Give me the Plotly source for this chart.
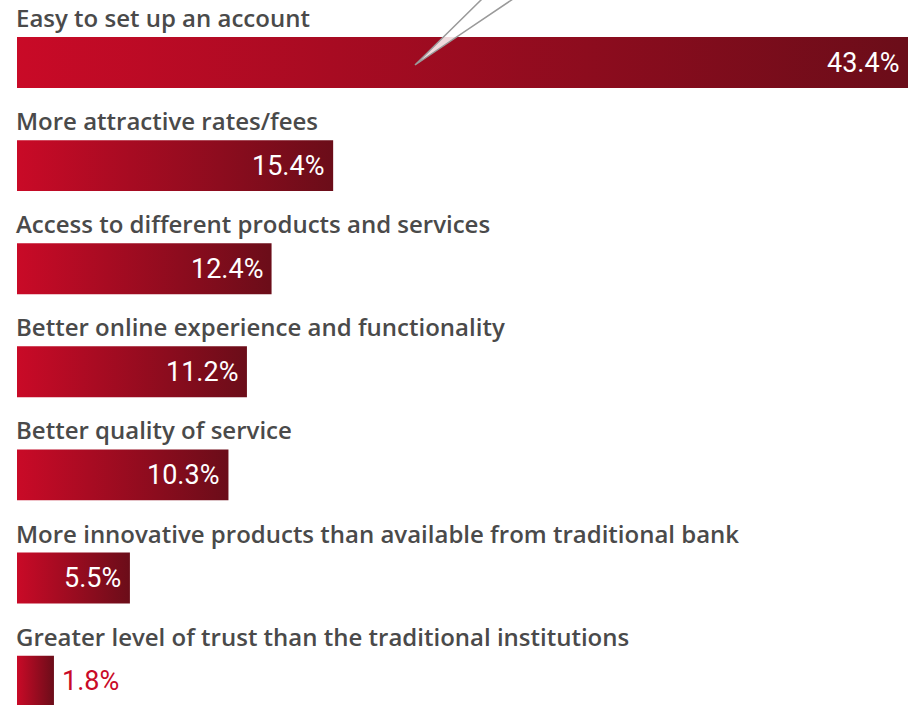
import plotly.graph_objects as go

categories = [
    "Easy to set up an account",
    "More attractive rates/fees",
    "Access to different products and services",
    "Better online experience and functionality",
    "Better quality of service",
    "More innovative products than available from traditional bank",
    "Greater level of trust than the traditional institutions",
]
values = [43.4, 15.4, 12.4, 11.2, 10.3, 5.5, 1.8]
value_labels = ["43.4%", "15.4%", "12.4%", "11.2%", "10.3%", "5.5%", "1.8%"]

W, H = 908, 705
LEFT = 17
HALF = 0.247
STEP = 103.1
TOP_OFF = 62.5 / STEP

fig = go.Figure()
for i, (cat, v) in enumerate(zip(categories, values)):
    fig.add_trace(go.Scatter(
        x=[0, v, v, 0, 0],
        y=[i - HALF, i - HALF, i + HALF, i + HALF, i - HALF],
        mode="lines", line=dict(width=0), fill="toself",
        fillgradient=dict(type="horizontal",
                          colorscale=[[0, "#c90a27"], [1, "#6b0d19"]]),
        hoverinfo="skip", showlegend=False,
    ))
    fig.add_annotation(x=0, y=i - HALF, xref="x", yref="y", text=cat,
                       showarrow=False, xanchor="left", yanchor="bottom",
                       yshift=1, xshift=-3,
                       font=dict(family="Open Sans, Roboto, Arial", size=24,
                                 color="#4a4a4a", weight=600))
    inside = v > 4
    fig.add_annotation(x=v, y=i, xref="x", yref="y", text=value_labels[i],
                       showarrow=False,
                       xanchor="right" if inside else "left",
                       xshift=-7 if inside else 6,
                       font=dict(family="Roboto, Arial", size=27,
                                 color="#ffffff" if inside else "#c90a27"))

# decorative needle
def px(x):
    return (x - LEFT) / (W - LEFT)

def py(y):
    return 1 - y / H

fig.add_shape(type="path", xref="paper", yref="paper",
              path=f"M {px(415)} {py(65)} L {px(482)} {py(-1)} L {px(513)} {py(-1)} Z",
              fillcolor="rgba(255,255,255,0.85)", line=dict(color="#9a9a9a", width=1.5))

fig.update_layout(
    width=W, height=H,
    margin=dict(l=LEFT, r=0, t=0, b=0),
    paper_bgcolor="white", plot_bgcolor="white",
    xaxis=dict(range=[0, max(values)], visible=False, fixedrange=True),
    yaxis=dict(range=[H / STEP - TOP_OFF, -TOP_OFF], visible=False, fixedrange=True),
    showlegend=False,
)
fig.write_html("out.html", config={"displayModeBar": False},
               post_script="document.body.style.margin='0';document.body.style.overflow='hidden';")
